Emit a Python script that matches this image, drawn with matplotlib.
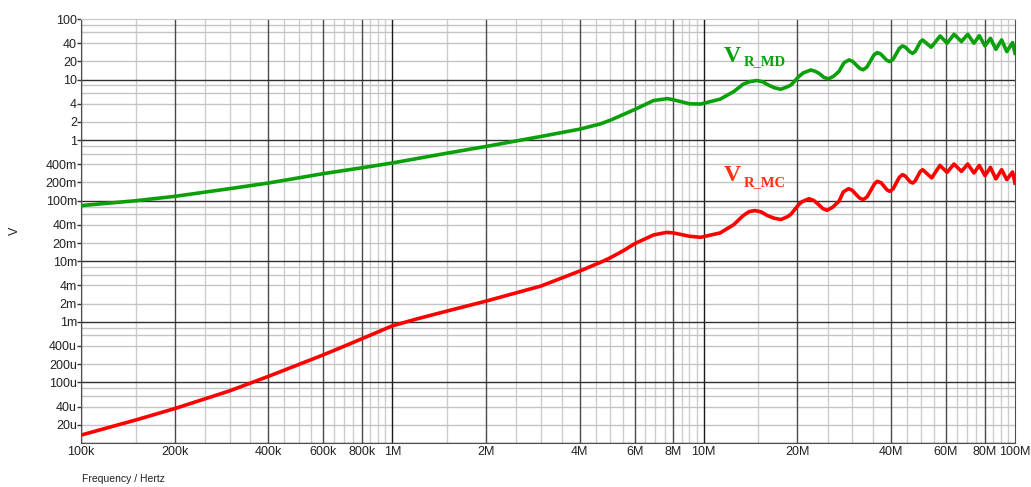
import numpy as np
import matplotlib.pyplot as plt

# frequency points (Hz) and voltage
freq_md = [1e5, 1.5e5, 2e5, 3e5, 4e5, 6e5, 8e5, 1e6, 1.5e6, 2e6, 3e6, 4e6, 4.65e6, 5e6,
           6e6, 6.9e6, 7.64e6, 8e6, 9e6, 9.78e6, 11.3e6, 12.5e6, 13.4e6, 14.06e6, 14.8e6,
           15.48e6, 16e6, 16.92e6, 17.7e6, 18.69e6, 19.1e6, 20.2e6, 20.89e6, 22.1e6,
           22.82e6, 23.5e6, 24.37e6, 25.2e6, 26.16e6, 27.2e6, 28.24e6, 29.3e6, 30.09e6,
           30.88e6, 31.7e6, 32.5e6, 33.41e6, 34.31e6, 35.21e6, 36.1e6, 37.01e6, 37.86e6,
           38.74e6, 39.6e6, 40.59e6, 41.56e6, 42.53e6, 43.5e6, 44.39e6, 45.22e6, 46.1e6,
           46.9e6, 47.84e6, 48.74e6, 49.65e6, 50.5e6, 53.8e6, 57.5e6, 60.5e6, 63.7e6,
           67.3e6, 70.5e6, 73.8e6, 76.8e6, 80.1e6, 83.4e6, 86.8e6, 90.6e6, 94.1e6,
           98.2e6, 100e6]
v_md = [0.083, 0.1, 0.118, 0.158, 0.196, 0.28, 0.35, 0.42, 0.61, 0.787, 1.15, 1.52, 1.85, 2.12,
        3.2, 4.5, 4.85, 4.64, 3.98, 3.95, 4.75, 6.35, 8.4, 9.23, 9.64,
        9.18, 8.3, 7.28, 6.93, 7.71, 8.18, 11.2, 12.9, 14.4,
        13.7, 12.6, 10.8, 10.3, 11.4, 13.6, 19.0, 21.1, 19.95,
        17.5, 15.3, 14.5, 16.0, 20.1, 25.4, 27.9, 26.5, 23.5,
        20.8, 19.8, 21.6, 26.7, 32.9, 35.9, 34.4, 31.3, 28.4,
        27.2, 29.3, 35.1, 41.9, 45.1, 34.2, 52.5, 39.8, 56.0,
        42.4, 56.0, 39.8, 53.0, 35.9, 48.1, 31.6, 45.1, 28.9,
        40.8, 27.2]

freq_mc = [1e5, 1.5e5, 2e5, 3e5, 4e5, 6e5, 7.33e5, 1e6, 1.2e6, 1.5e6, 2e6, 3e6, 4e6, 4.65e6,
           5e6, 5.5e6, 6e6, 6.9e6, 7.6e6, 8e6, 9e6, 9.78e6, 11.3e6, 12.5e6, 13.4e6, 14.01e6,
           14.6e6, 15.31e6, 16e6, 16.85e6, 17.7e6, 18.64e6, 19.1e6, 20.2e6, 20.69e6, 21.8e6,
           22.56e6, 23.3e6, 24.15e6, 24.9e6, 25.97e6, 27.2e6, 28.09e6, 29.2e6, 29.99e6,
           30.81e6, 31.66e6, 32.5e6, 33.45e6, 34.39e6, 35.36e6, 36.1e6, 37.15e6, 37.97e6,
           38.8e6, 39.6e6, 40.59e6, 41.55e6, 42.53e6, 43.5e6, 44.36e6, 45.19e6, 46.03e6,
           46.9e6, 47.77e6, 48.66e6, 49.58e6, 50.5e6, 54e6, 57.4e6, 60.5e6,
           63.7e6, 67.3e6, 70.5e6, 73.8e6, 76.8e6, 80.1e6, 83.4e6, 86.8e6, 90.6e6, 94.1e6,
           98.2e6, 100e6]
v_mc = [13.5e-6, 24e-6, 37e-6, 72.5e-6, 126e-6, 285e-6, 437e-6, 0.86e-3, 1.12e-3, 1.51e-3,
        2.2e-3, 3.9e-3, 6.9e-3, 9.55e-3, 11.35e-3, 14.8e-3,
        19.5e-3, 27.2e-3, 30e-3, 29.4e-3, 25.9e-3, 24.9e-3, 29.4e-3, 40.4e-3, 56.9e-3, 66.1e-3,
        68.7e-3, 65.3e-3, 57e-3, 51.4e-3, 48.9e-3, 54.8e-3, 60.5e-3, 86.3e-3, 96.2e-3, 108e-3,
        101e-3, 88e-3, 74.1e-3, 69.5e-3, 78.3e-3, 97.7e-3, 140e-3, 158e-3, 149e-3,
        128e-3, 111e-3, 104e-3, 115e-3, 147e-3, 189e-3, 209e-3, 198e-3, 173e-3,
        151e-3, 143e-3, 157e-3, 196e-3, 245e-3, 269e-3, 257e-3, 230e-3, 205e-3,
        196e-3, 211e-3, 252e-3, 302e-3, 325e-3, 238e-3, 383e-3, 294e-3,
        403e-3, 305e-3, 403e-3, 287e-3, 383e-3, 259e-3, 355e-3, 229e-3, 325e-3, 223e-3,
        298e-3, 196e-3]

x_ticks = [1e5, 2e5, 4e5, 6e5, 8e5, 1e6, 2e6, 4e6, 6e6, 8e6, 1e7, 2e7, 4e7, 6e7, 8e7, 1e8]
x_labels = ['100k', '200k', '400k', '600k', '800k', '1M', '2M', '4M', '6M', '8M',
            '10M', '20M', '40M', '60M', '80M', '100M']
y_ticks = [100, 40, 20, 10, 4, 2, 1, 0.4, 0.2, 0.1, 0.04, 0.02, 0.01, 4e-3, 2e-3, 1e-3,
           4e-4, 2e-4, 1e-4, 4e-5, 2e-5]
y_labels = ['100', '40', '20', '10', '4', '2', '1', '400m', '200m', '100m', '40m', '20m',
            '10m', '4m', '2m', '1m', '400u', '200u', '100u', '40u', '20u']

green = '#0aa00a'
red = '#ff0000'

plt.rcParams['font.family'] = ['Liberation Sans', 'DejaVu Sans']

fig = plt.figure(figsize=(10.31, 4.87), dpi=100)
ax = fig.add_axes([81 / 1031, 44 / 487, 934 / 1031, 424 / 487])
ax.set_xscale('log')
ax.set_yscale('log')
ax.set_xlim(1e5, 1e8)
ax.set_ylim(1e-5, 100)

# grid: light minor lines, darker labelled lines, black decades
for dec in [1e5, 1e6, 1e7]:
    for m in [1.5, 2.5, 3, 3.5, 4.5, 5, 5.5, 6.5, 7, 7.5, 8.5, 9, 9.5]:
        ax.axvline(dec * m, color='#cdcdcd', lw=1, zorder=0)
    for m in [2, 4, 6, 8]:
        ax.axvline(dec * m, color='#4a4a4a', lw=1, zorder=1)
    ax.axvline(dec, color='#1a1a1a', lw=1, zorder=1)
for e in range(-5, 2):
    dec = 10.0 ** e
    for m in [2, 4, 6, 8]:
        ax.axhline(dec * m, color='#c4c4c4', lw=1, zorder=0)
    ax.axhline(dec, color='#303030', lw=1, zorder=1)

ax.plot(freq_md, v_md, color=green, lw=2.6, zorder=3, solid_joinstyle='round')
ax.plot(freq_mc, v_mc, color=red, lw=2.6, zorder=3, solid_joinstyle='round')

ax.xaxis.set_major_locator(plt.FixedLocator(x_ticks))
ax.xaxis.set_major_formatter(plt.FixedFormatter(x_labels))
ax.xaxis.set_minor_locator(plt.NullLocator())
ax.yaxis.set_major_locator(plt.FixedLocator(y_ticks))
ax.yaxis.set_major_formatter(plt.FixedFormatter(y_labels))
ax.yaxis.set_minor_locator(plt.NullLocator())
ax.tick_params(axis='x', length=0, pad=2, labelsize=9, labelcolor='#222222')
ax.tick_params(axis='y', length=3, pad=0, width=1, color='#333333', labelsize=9,
               labelcolor='#222222')

for side in ['left', 'bottom', 'right']:
    ax.spines[side].set_color('#505050')
ax.spines['top'].set_color('#c8c8c8')

# curve labels
ax.text(11.6e6, 19.6, 'V', color=green, fontsize=17, fontweight='bold',
        family='Liberation Serif', va='baseline', ha='left', zorder=4)
ax.text(13.45e6, 17.1, 'R_MD', color=green, fontsize=10.5, fontweight='bold',
        family='Liberation Serif', va='baseline', ha='left', zorder=4)
ax.text(11.6e6, 0.209, 'V', color='#ff3010', fontsize=17, fontweight='bold',
        family='Liberation Serif', va='baseline', ha='left', zorder=4)
ax.text(13.45e6, 0.177, 'R_MC', color='#ff3010', fontsize=10.5, fontweight='bold',
        family='Liberation Serif', va='baseline', ha='left', zorder=4)

fig.text(15 / 1031, 1 - 231 / 487, 'V', rotation=90, fontsize=9, color='#222222',
         ha='center', va='center')
fig.text(82 / 1031, 1 - 474 / 487, 'Frequency / Hertz', fontsize=7.5, color='#222222',
         ha='left', va='top')

fig.savefig('out.png', dpi=100)
